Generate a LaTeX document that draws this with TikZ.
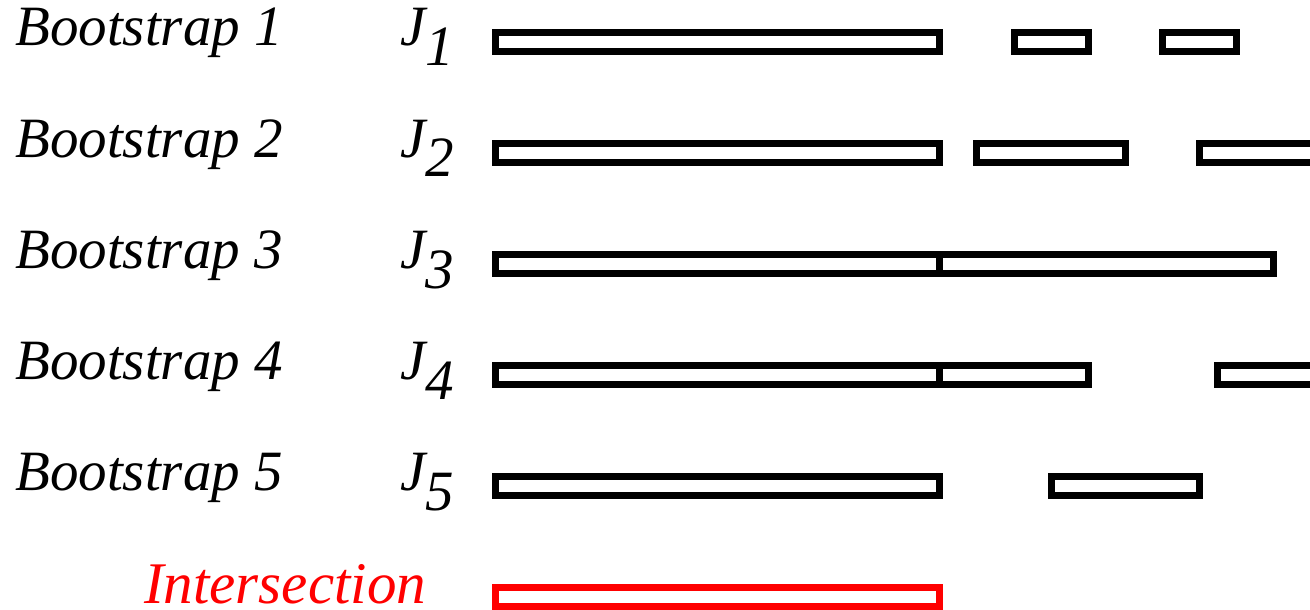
\documentclass[tikz,border=0pt]{standalone}
\usepackage{fontspec}
\setmainfont{Liberation Serif}
\begin{document}
\begin{tikzpicture}[x=1pt,y=-1pt,
  seg/.style={draw=black,line width=7pt,line join=miter},
  iseg/.style={draw=red,line width=7pt,line join=miter},
  lab/.style={anchor=base west,inner sep=0pt,font=\fontsize{57}{68}\selectfont\itshape},
  jlab/.style={anchor=base west,inner sep=0pt,font=\fontsize{57}{68}\selectfont\itshape}]
\useasboundingbox (0,0) rectangle (1310,610);
\clip (0,0) rectangle (1310,610);
% one row: label, J name, and the kept intervals (outer x-extents)
\newcommand\bootrow[3]{%
  \pgfmathsetmacro\yc{42+111*(#1-1)}%
  \pgfmathsetmacro\yb{46+111*(#1-1)}%
  \node[lab] (boot#1) at (15,\yb) {Bootstrap #1};
  \node[jlab] (j#1) at (400,\yb) {J\raisebox{-20pt}{#1}};
  \foreach \a/\b in {#2} {
    \draw[seg] (\a+3.5,\yc-9.5) rectangle (\b-3.5,\yc+9.5);
  }
}
\bootrow{1}{492/943,1011/1092,1159/1240}{}
\bootrow{2}{492/943,973/1129,1196/1330}{}
\bootrow{3}{492/943,936/1277}{}
\bootrow{4}{492/943,936/1092,1214/1330}{}
\bootrow{5}{492/943,1048/1203}{}
% common part of all five
\node[lab,text=red,font=\fontsize{59}{70}\selectfont\itshape] (inter) at (144,603) {Intersection};
\draw[iseg] (495.5,587.5) rectangle (939.5,606.5);
\end{tikzpicture}
\end{document}
